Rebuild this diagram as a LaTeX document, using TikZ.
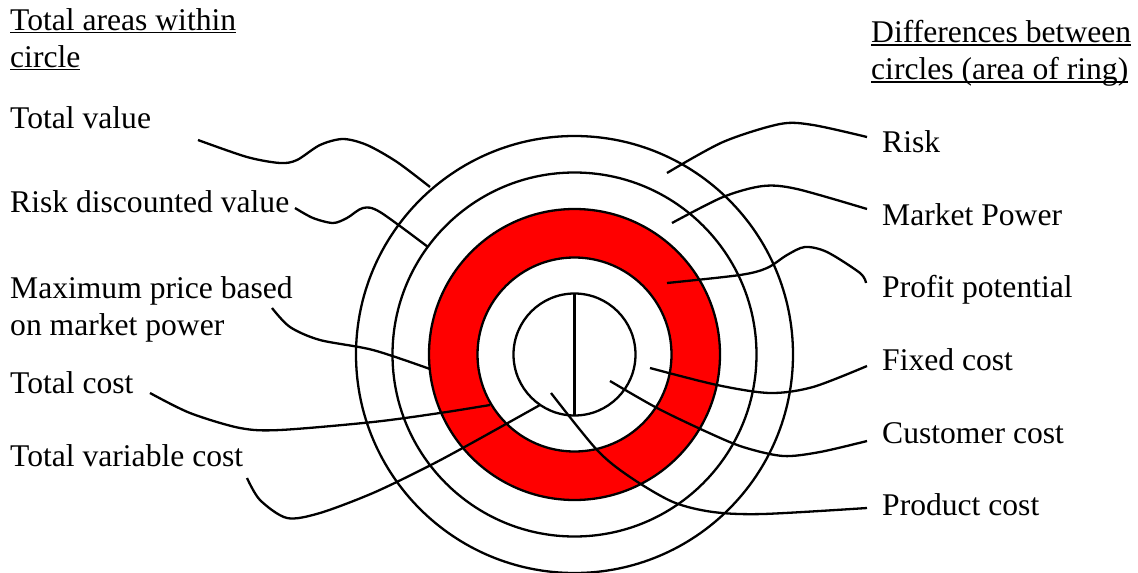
\documentclass[tikz,border=0pt]{standalone}
\usepackage{fontspec}
\setmainfont{Liberation Serif}
\newcommand\ulx[1]{\setbox0\hbox{#1}\rlap{\rule[-3.3pt]{\wd0}{1.6pt}}\box0}
\begin{document}
\begin{tikzpicture}[x=1pt,y=-1pt,
  lbl/.style={anchor=base west, inner sep=0pt, align=left, font=\fontsize{31.6}{37}\selectfont},
  ring/.style={draw=black, line width=2.3pt},
  conn/.style={draw=black, line width=2.3pt}]
\useasboundingbox (0,0) rectangle (1138,573);
\coordinate (c) at (574.5,354.5);
% rings
\fill[red, even odd rule] (c) circle[radius=145.5pt] (c) circle[radius=97pt];
\draw[ring] (c) circle[radius=218.5pt];
\draw[ring] (c) circle[radius=182pt];
\draw[ring] (c) circle[radius=145.5pt];
\draw[ring] (c) circle[radius=97pt];
\draw[ring] (c) circle[radius=61pt];
\coordinate (dtop) at (574.5,293.5);
\coordinate (dbot) at (574.5,415.5);
\draw[ring] (dtop) -- (dbot);
% labels left (base = baseline of last line)
\node[lbl] (hl) at (10,67) {\ulx{Total areas within}\\\ulx{circle}};
\node[lbl] (tv) at (10,128) {Total value};
\node[lbl] (rd) at (10,212) {Risk discounted value};
\node[lbl] (mp) at (10,335) {Maximum price based\\on market power};
\node[lbl] (tc) at (10,393) {Total cost};
\node[lbl] (tvc) at (10,466) {Total variable cost};
% labels right
\node[lbl] (hr) at (871,79.5) {\ulx{Differences between}\\\ulx{circles (area of ring)}};
\node[lbl] (ri) at (882,152) {Risk};
\node[lbl] (mk) at (882,225) {Market Power};
\node[lbl] (pp) at (882,297) {Profit potential};
\node[lbl] (fc) at (882,370) {Fixed cost};
\node[lbl] (cc) at (882,443) {Customer cost};
\node[lbl] (pc) at (882,515) {Product cost};
% connector ends
\coordinate (tvA) at (198,140);  \coordinate (tvB) at (430,187);
\coordinate (rdA) at (295,208);  \coordinate (rdB) at (428,247);
\coordinate (mpA) at (272,308);  \coordinate (mpB) at (430,369);
\coordinate (tcA) at (150,393);  \coordinate (tcB) at (490,405);
\coordinate (tvcA) at (247,478); \coordinate (tvcB) at (540,405);
\coordinate (riA) at (867,137);  \coordinate (riB) at (667,173);
\coordinate (mkA) at (867,209);  \coordinate (mkB) at (672,223);
\coordinate (ppA) at (866,283);  \coordinate (ppB) at (667,283);
\coordinate (fcA) at (867,366);  \coordinate (fcB) at (650,368);
\coordinate (ccA) at (867,441);  \coordinate (ccB) at (610,381);
\coordinate (pcA) at (867,508);  \coordinate (pcB) at (551,393);
% connectors
\draw[conn] plot[smooth] coordinates {(tvA) (247,157) (280,163) (297,160) (320,145) (343,139) (367,145) (397,162) (tvB)};
\draw[conn] plot[smooth] coordinates {(rdA) (313,218) (333,223) (347,218) (363,208) (380,212) (rdB)};
\draw[conn] plot[smooth] coordinates {(mpA) (290,327) (320,340) (373,350) (mpB)};
\draw[conn] plot[smooth] coordinates {(tcA) (190,413) (240,428) (280,430) (373,422) (440,413) (tcB)};
\draw[conn] plot[smooth] coordinates {(tvcA) (260,500) (287,518) (320,513) (373,493) (427,467) (470,444) (tvcB)};
\draw[conn] plot[smooth] coordinates {(riB) (723,142) (780,124) (813,125) (riA)};
\draw[conn] plot[smooth] coordinates {(mkB) (723,197) (763,186) (797,189) (mkA)};
\draw[conn] plot[smooth] coordinates {(ppB) (740,275) (767,268) (787,255) (805,247) (827,252) (860,273) (ppA)};
\draw[conn] plot[smooth] coordinates {(fcB) (717,385) (770,393) (813,387) (fcA)};
\draw[conn] plot[smooth] coordinates {(ccB) (657,408) (707,432) (743,447) (783,456) (820,452) (ccA)};
\draw[conn] plot[smooth] coordinates {(pcB) (597,450) (630,477) (673,502) (713,512) (763,514) (pcA)};
\end{tikzpicture}
\end{document}
